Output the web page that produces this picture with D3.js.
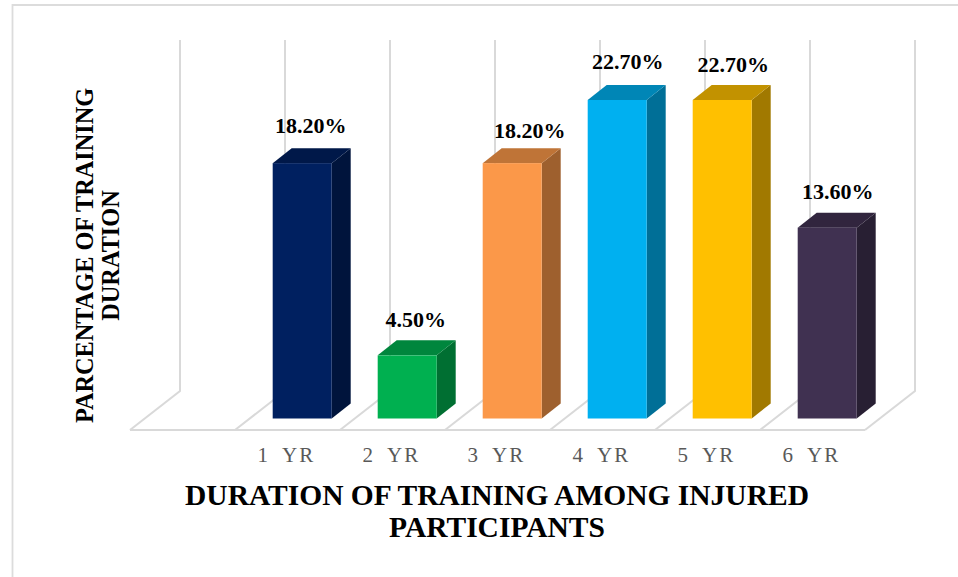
<!DOCTYPE html>
<html>
<head>
<meta charset="utf-8">
<script src="https://cdn.jsdelivr.net/npm/d3@7/dist/d3.min.js"></script>
<style>
  html, body { margin: 0; padding: 0; background: #fff; }
  svg { display: block; }
  text { font-family: "Liberation Serif", serif; }
</style>
</head>
<body>
<div id="chart"></div>
<script>
// Training duration among injured participants
const categories = ["1 YR", "2 YR", "3 YR", "4 YR", "5 YR", "6 YR"];
const values = [18.2, 4.5, 18.2, 22.7, 22.7, 13.6];
const valueLabels = ["18.20%", "4.50%", "18.20%", "22.70%", "22.70%", "13.60%"];
const barColors = ["#002060", "#00b050", "#fb9849", "#00b0f0", "#ffc000", "#403151"];
const titleLines = ["DURATION OF TRAINING AMONG INJURED", "PARTICIPANTS"];
const yTitleLines = ["PARCENTAGE OF TRAINING", "DURATION"];

const width = 958, height = 577;

// The floor has one leading slot left empty before the first category
const slots = ["", ...categories];
const floor = { left: 130, right: 865, front: 430 };
const wallDepth = { dx: 50, dy: -39 };
const wallTop = 40;
const barDepth = { dx: 19, dy: -15 };
const barShift = 14.7;    // bars sit partway back on the floor
const barBase = 418.5;

const x = d3.scaleBand().domain(slots).range([floor.left, floor.right]).paddingInner(0).paddingOuter(0);
const y = d3.scaleLinear().domain([0, 22.7]).range([barBase, 100]);
const barWidth = x.bandwidth() * 0.562;

// Small per-label adjustments of the data labels, dx and baseline gap above the bar top
const labelPlacement = [
  { dx: -20, gap: 30 }, { dx: -20, gap: 28.5 }, { dx: -11, gap: 25.5 },
  { dx: -18, gap: 31 }, { dx: -17.5, gap: 28.5 }, { dx: -18, gap: 28.5 }
];

const svg = d3.select("#chart").append("svg").attr("width", width).attr("height", height);
svg.append("rect").attr("width", width).attr("height", height).attr("fill", "#fff");

// Outer frame: only the top and left edges fall inside the canvas
svg.append("path")
  .attr("d", d3.line()([[12.5, height], [12.5, 5], [width, 5]]))
  .attr("fill", "none").attr("stroke", "#dcdcdc").attr("stroke-width", 1.8);

// Slot boundaries drive the wall and floor grid
const edges = [...slots.map(s => x(s)), floor.right];
const grid = svg.append("g").attr("fill", "none").attr("stroke", "#d9d9d9").attr("stroke-width", 2);
const backY = floor.front + wallDepth.dy;

grid.selectAll("path.grid").data(edges).join("path").attr("class", "grid")
  .attr("d", e => d3.line()([
    [e, floor.front],
    [e + wallDepth.dx, backY],
    [e + wallDepth.dx, wallTop]
  ]));
grid.append("path").attr("d", d3.line()([[floor.left, floor.front], [floor.right, floor.front]]));

// Extruded bars: side and top faces are darker shades of the front
const shade = (c, k) => {
  const r = d3.rgb(c);
  return d3.rgb(r.r * k, r.g * k, r.b * k).formatHex();
};
const rows = categories.map((c, i) => ({
  c, value: values[i], label: valueLabels[i], color: barColors[i], place: labelPlacement[i]
}));

const bars = svg.append("g").selectAll("g").data(rows).join("g");
const left = d => x(d.c) + x.bandwidth() / 2 + barShift - barWidth / 2;

bars.append("path") // side face
  .attr("fill", d => shade(d.color, 0.63))
  .attr("d", d => {
    const r = left(d) + barWidth;
    return d3.line()([[r, y(0)], [r + barDepth.dx, y(0) + barDepth.dy],
      [r + barDepth.dx, y(d.value) + barDepth.dy], [r, y(d.value)]]) + "Z";
  });
bars.append("path") // top face
  .attr("fill", d => shade(d.color, 0.76))
  .attr("d", d => {
    const l = left(d), t = y(d.value);
    return d3.line()([[l, t], [l + barDepth.dx, t + barDepth.dy],
      [l + barWidth + barDepth.dx, t + barDepth.dy], [l + barWidth, t]]) + "Z";
  });
bars.append("rect") // front face
  .attr("x", left).attr("y", d => y(d.value))
  .attr("width", barWidth).attr("height", d => y(0) - y(d.value))
  .attr("fill", d => d.color);

// Value labels
bars.append("text")
  .attr("x", d => left(d) + barWidth / 2 + barDepth.dx + d.place.dx + 9.5)
  .attr("y", d => y(d.value) - d.place.gap)
  .attr("text-anchor", "middle")
  .attr("font-size", 22).attr("font-weight", "bold").attr("fill", "#000")
  .text(d => d.label);

// Category axis
const axis = svg.append("g")
  .attr("transform", `translate(-1,${floor.front})`)
  .call(d3.axisBottom(x).tickValues(categories).tickSize(0).tickPadding(17));
axis.select(".domain").remove();
axis.selectAll("text")
  .attr("font-family", '"Liberation Serif", serif')
  .attr("font-size", 21).attr("fill", "#595959")
  .attr("letter-spacing", 2.2).style("word-spacing", "5px");

// Chart title
svg.append("g").selectAll("text").data(titleLines).join("text")
  .attr("x", 497).attr("y", (d, i) => 504.5 + i * 32.5)
  .attr("text-anchor", "middle")
  .attr("font-size", 29.5).attr("font-weight", "bold").attr("fill", "#000")
  .text(d => d);

// Vertical axis title
svg.append("g").selectAll("text").data(yTitleLines).join("text")
  .attr("transform", (d, i) => `translate(${93 + i * 26},255.5) rotate(-90)`)
  .attr("text-anchor", "middle")
  .attr("font-size", 24.3).attr("font-weight", "bold").attr("fill", "#000")
  .text(d => d);
</script>
</body>
</html>
